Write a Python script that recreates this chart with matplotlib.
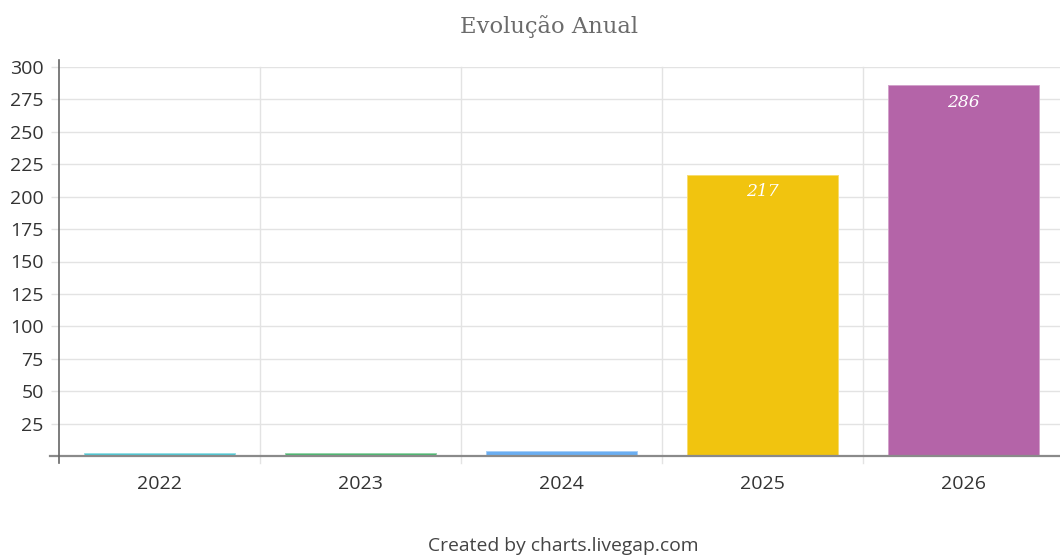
import matplotlib
matplotlib.use("Agg")
import matplotlib.pyplot as plt
from matplotlib.lines import Line2D
from matplotlib.colors import to_rgb

years = ["2022", "2023", "2024", "2025", "2026"]
values = [2, 2, 4, 217, 286]
colors = ["#4fc8d4", "#4cb870", "#6aaef2", "#f1c40f", "#b464a8"]
y_ticks = [25, 50, 75, 100, 125, 150, 175, 200, 225, 250, 275, 300]

W, H = 1060, 557
fig = plt.figure(figsize=(W / 100, H / 100), dpi=100)
ax = fig.add_axes([59 / W, 101 / H, 1 - 59 / W, (456 - 67) / H])

x = list(range(len(years)))


def lighten(c, f=0.4):
    r, g, b = to_rgb(c)
    return (r + (1 - r) * f, g + (1 - g) * f, b + (1 - b) * f)


bars = ax.bar(x, values, width=0.75, color=colors,
              edgecolor=[lighten(c) for c in colors], linewidth=0.7, zorder=3)

# value labels inside the top of the taller bars
for xi, v in zip(x, values):
    if v >= 20:
        ax.annotate(str(v), (xi, v), xytext=(0, -12.5), textcoords="offset points",
                    ha="center", va="center", color="white", fontsize=12.3,
                    fontstyle="italic", fontfamily="DejaVu Serif", zorder=4)

ax.set_xlim(-0.5, -0.5 + (W - 59) / 201)
ax.set_ylim(0, 300)

# grid: horizontal at y ticks, vertical at category boundaries
grid_c = "#e3e3e3"
for t in y_ticks:
    ax.axhline(t, color=grid_c, lw=1, zorder=1)
for b in [0.5, 1.5, 2.5, 3.5]:
    ax.add_line(Line2D([b, b], [-0.018, 1.0], transform=ax.get_xaxis_transform(),
                       color=grid_c, lw=1, clip_on=False, zorder=1))

for s in ax.spines.values():
    s.set_visible(False)

# axis lines
ax.add_line(Line2D([-0.009, 1.0], [0, 0], transform=ax.transAxes,
                   color="#8a8a8a", lw=1.6, clip_on=False, zorder=5))
ax.add_line(Line2D([0, 0], [-0.018, 1.018], transform=ax.transAxes,
                   color="#666666", lw=1.2, clip_on=False, zorder=5))

ax.set_yticks(y_ticks)
ax.set_yticklabels([str(t) for t in y_ticks])
ax.set_xticks(x)
ax.set_xticklabels(years)
ax.tick_params(axis="y", length=6, color=grid_c, width=1, pad=5,
               labelsize=14, labelcolor="#333333")
ax.tick_params(axis="x", length=0, pad=14, labelsize=14, labelcolor="#333333")
for lab in ax.get_xticklabels() + ax.get_yticklabels():
    lab.set_fontfamily("Open Sans")

fig.text(549.5 / W, 1 - 27 / H, "Evolução Anual", ha="center", va="center",
         fontsize=16.3, color="#6b6b6b", fontfamily="DejaVu Serif")
fig.text(563 / W, 1 - 546 / H, "Created by charts.livegap.com", ha="center",
         va="center", fontsize=13.9, color="#444444", fontfamily="Open Sans")

fig.savefig("out.png", dpi=100)
